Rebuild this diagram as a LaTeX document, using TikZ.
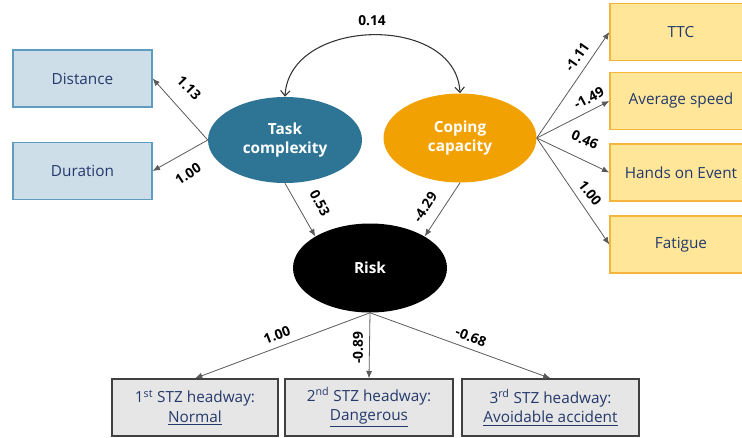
\documentclass[tikz,border=0pt]{standalone}
\usepackage{fontspec}
\setmainfont{Open Sans}
\usetikzlibrary{shapes.geometric,arrows.meta}
\definecolor{tealc}{HTML}{2E7494}
\definecolor{orangec}{HTML}{F2A102}
\definecolor{lbfill}{HTML}{CEDEE9}
\definecolor{lbdraw}{HTML}{5E9DC0}
\definecolor{ybfill}{HTML}{FFE699}
\definecolor{ybdraw}{HTML}{F4B53C}
\definecolor{gbfill}{HTML}{E7E6E6}
\definecolor{gbdraw}{HTML}{404040}
\definecolor{navy}{HTML}{24396B}
\definecolor{edgec}{HTML}{5A5A5A}
\begin{document}
\begin{tikzpicture}[x=0.75pt,y=-0.75pt,
  boxfont/.style={font=\fontsize{11.5}{14.5}\selectfont},
  lbox/.style={rectangle, draw=lbdraw, fill=lbfill, line width=1pt, minimum width=104.25pt, minimum height=42.75pt, text=navy, boxfont, inner sep=0pt},
  ybox/.style={rectangle, draw=ybdraw, fill=ybfill, line width=1pt, minimum width=106.5pt, minimum height=42.75pt, text=navy, boxfont, inner sep=0pt},
  gbox/.style={rectangle, draw=gbdraw, fill=gbfill, line width=1pt, minimum height=42.75pt, text=navy, boxfont, align=center, inner sep=0pt},
  latent/.style={ellipse, text=white, font=\bfseries\fontsize{11.5}{14}\selectfont, align=center, inner sep=0pt},
  coef/.style={font=\bfseries\fontsize{10.3}{12}\selectfont, inner sep=1pt},
  edgearrow/.style={draw=edgec, line width=0.6pt, -{Latex[length=5.5pt,width=4.5pt]}}
]
\useasboundingbox (0,0) rectangle (742,437);
\clip (0,0) rectangle (742,437);

% indicator boxes
\node[lbox] (dist) at (82.5,78.5) {Distance};
\node[lbox] (dur) at (82.5,171) {Duration};
\node[ybox] (ttc) at (681,32) {TTC};
\node[ybox] (avg) at (681,101) {Average speed};
\node[ybox] (hands) at (681,172.5) {Hands on Event};
\node[ybox] (fat) at (681,244.5) {Fatigue};
\node[gbox, minimum width=124.5pt] (s1) at (195,407.5) {1\textsuperscript{st} STZ headway:\\\underline{Normal}};
\node[gbox, minimum width=126pt] (s2) at (369,407.5) {2\textsuperscript{nd} STZ headway:\\\underline{Dangerous}};
\node[gbox, minimum width=132.75pt] (s3) at (550.5,407.5) {3\textsuperscript{rd} STZ headway:\\\underline{Avoidable accident}};

% latent variables
\node[latent, fill=tealc, minimum width=115.5pt, minimum height=64.5pt] (tc) at (285,140) {Task\\complexity};
\node[latent, fill=orangec, minimum width=114.75pt, minimum height=66.75pt] (cc) at (460,138) {Coping\\capacity};
\node[latent, fill=black, minimum width=115.5pt, minimum height=66.75pt] (risk) at (370,268) {Risk};

% covariance
\draw[draw=black!80, line width=0.8pt, {Straight Barb[length=4pt,width=7pt]}-{Straight Barb[length=4pt,width=7pt]}]
  (tc.north) .. controls +(4,-80) and +(-4,-80) .. (cc.north);
\node[coef] (c014) at (372,21) {0.14};

% loadings
\draw[edgearrow] (tc.west) -- (dist.east);
\draw[edgearrow] (tc.west) -- (dur.east);
\draw[edgearrow] (cc.east) -- (ttc.west);
\draw[edgearrow] (cc.east) -- (avg.west);
\draw[edgearrow] (cc.east) -- (hands.west);
\draw[edgearrow] (cc.east) -- (fat.west);
\draw[edgearrow] (tc.south) -- (risk.150);
\draw[edgearrow] (cc.south) -- (risk.30);
\draw[edgearrow] (risk.south) -- (s1.north);
\draw[edgearrow] (risk.south) -- (s2.north);
\draw[edgearrow] (risk.south) -- (s3.north);

% coefficient labels
\node[coef, rotate=-46] (l1) at (189,88) {1.13};
\node[coef, rotate=33] (l2) at (188,174) {1.00};
\node[coef, rotate=-62] (l3) at (320,203) {0.53};
\node[coef, rotate=57] (l4) at (425,207) {-4.29};
\node[coef, rotate=55] (l5) at (577,57) {-1.11};
\node[coef, rotate=28] (l6) at (589,98) {-1.49};
\node[coef, rotate=-24] (l7) at (585,140) {0.46};
\node[coef, rotate=-52] (l8) at (590,193) {1.00};
\node[coef, rotate=21] (l9) at (277,335) {1.00};
\node[coef, rotate=90] (l10) at (358,348) {-0.89};
\node[coef, rotate=-22] (l11) at (471,337) {-0.68};
\end{tikzpicture}
\end{document}
